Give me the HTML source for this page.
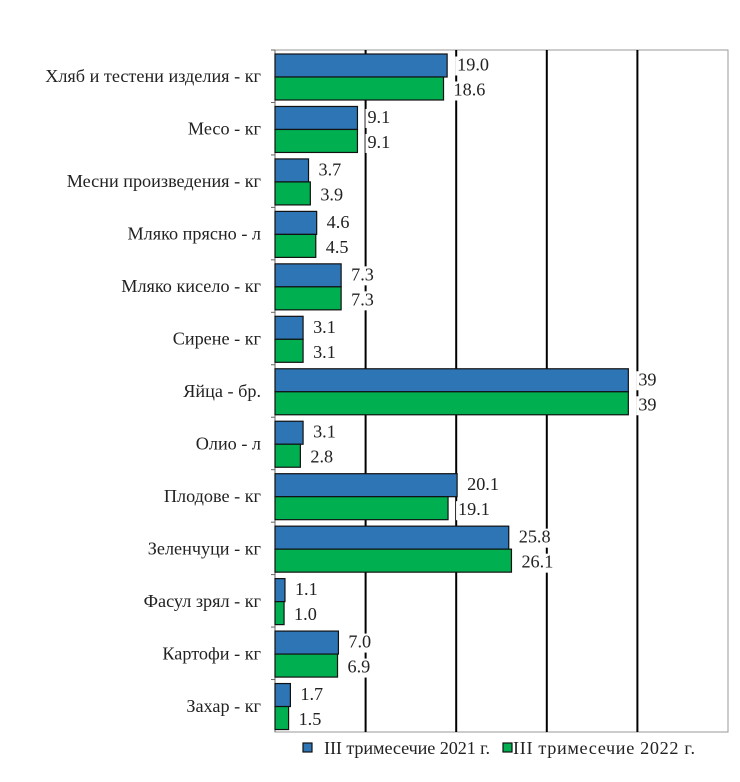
<!DOCTYPE html>
<html><head><meta charset="utf-8"><style>
body{margin:0;background:#fff;width:740px;height:777px;overflow:hidden}
svg text{font-family:"Liberation Serif",serif;font-size:18.2px;fill:#222}
</style></head><body>
<svg id="chart" width="740" height="777"></svg>
<script>
const categories=["Хляб и тестени изделия - кг","Месо - кг","Месни произведения  - кг","Мляко прясно - л","Мляко кисело - кг","Сирене - кг","Яйца - бр.","Олио - л","Плодове - кг","Зеленчуци - кг","Фасул зрял - кг","Картофи - кг","Захар - кг"];
const series2021=[19.0,9.1,3.7,4.6,7.3,3.1,39,3.1,20.1,25.8,1.1,7.0,1.7];
const series2022=[18.6,9.1,3.9,4.5,7.3,3.1,39,2.8,19.1,26.1,1.0,6.9,1.5];
const labels2021=["19.0","9.1","3.7","4.6","7.3","3.1","39","3.1","20.1","25.8","1.1","7.0","1.7"];
const labels2022=["18.6","9.1","3.9","4.5","7.3","3.1","39","2.8","19.1","26.1","1.0","6.9","1.5"];
const xTicks=[10,20,30,40];
const seriesNames=["III  тримесечие 2021 г.","III  тримесечие 2022 г."];
const svg=document.getElementById('chart'),NS="http://www.w3.org/2000/svg";
const L=275,R=728,T=50,B=732,xMax=50;
const x=v=>L+v/xMax*(R-L);
const band=(B-T)/categories.length;
function mk(t,a,p){const e=document.createElementNS(NS,t);for(const k in a)e.setAttribute(k,a[k]);(p||svg).appendChild(e);return e;}
const frame=mk('rect',{x:L,y:T,width:R-L,height:B-T,fill:'none',stroke:'#999','stroke-width':1});


xTicks.forEach(t=>{const g=mk('line',{x1:x(t),x2:x(t),y1:T,y2:B,stroke:'#000','stroke-width':2});

});
const ax=mk('line',{x1:L,x2:L,y1:T,y2:B,stroke:'#666','stroke-width':1});


function lbl(tx,xx,yy){const w=tx.length*9.2+4;
const bg=mk('rect',{x:xx-2,y:yy-13,width:w,height:19,fill:'#fff'});


const t=mk('text',{x:xx,y:yy+1});t.textContent=tx;

}
categories.forEach((c,i)=>{
 const y0=T+i*band, bh=23;
 const yb=y0+4, yg=y0+4+bh;
 const b1=mk('rect',{x:L,y:yb,width:x(series2021[i])-L,height:bh,fill:'#2e75b6',stroke:'#111','stroke-width':1.2});
 
 
 const b2=mk('rect',{x:L,y:yg,width:x(series2022[i])-L,height:bh,fill:'#00b050',stroke:'#111','stroke-width':1.2});
 
 
 lbl(labels2021[i],x(series2021[i])+10,yb+bh/2+4);
 lbl(labels2022[i],x(series2022[i])+10,yg+bh/2+6);
 const tk=mk('line',{x1:L-4,x2:L,y1:y0,y2:y0,stroke:'#666'});
 
 
 const ct=mk('text',{x:261,y:y0+band/2+6,'text-anchor':'end'});ct.textContent=c;
 
 
});
const cols=['#2e75b6','#00b050'],lx=[303,503],tl=[166,182];
seriesNames.forEach((n,i)=>{
 const s=mk('rect',{x:lx[i],y:743,width:9,height:9,fill:cols[i],stroke:'#111','stroke-width':1.2});
 
 
 const t=mk('text',{x:lx[i]+(i?10:21),y:754,textLength:tl[i],lengthAdjust:'spacing'});t.textContent=n;
 
 
});
</script>
</body></html>
